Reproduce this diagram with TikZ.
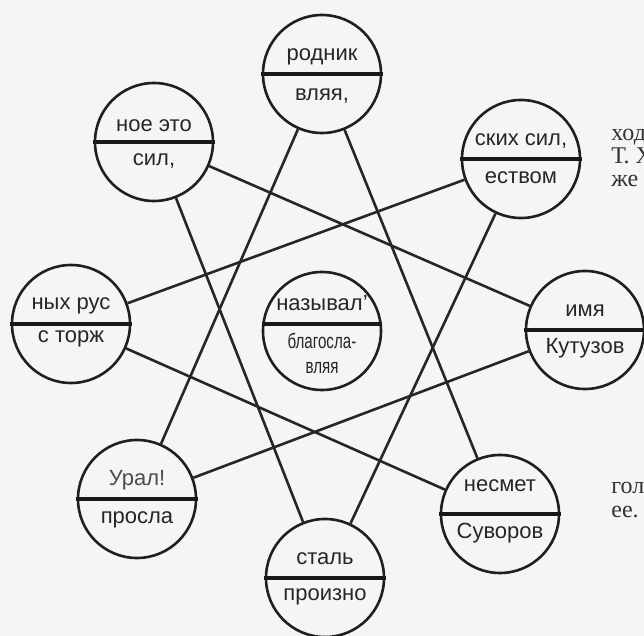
\documentclass[tikz,border=0pt]{standalone}
\usepackage{fontspec}
\setmainfont{Liberation Sans}
\newfontfamily\seriffont{Liberation Serif}
\newfontfamily\narrowfont[FakeStretch=0.72]{Liberation Sans}
\usetikzlibrary{calc}
\begin{document}
\begin{tikzpicture}[x=0.5pt,y=-0.5pt,
  bub/.style={circle,draw=black!88,line width=1.3pt,minimum size=59pt,inner sep=0pt,fill=none},
  divline/.style={draw=black!90,line width=1.7pt,shorten <=-0.5pt,shorten >=-0.5pt},
  conn/.style={draw=black!85,line width=1.3pt},
  lbl/.style={font=\fontsize{11}{13}\selectfont,text=black!85,inner sep=0pt},
  nlbl/.style={font=\narrowfont\fontsize{10.5}{12}\selectfont,text=black!85,inner sep=0pt},
  frag/.style={font=\seriffont\fontsize{12}{14}\selectfont,text=black!80,inner sep=0pt,anchor=base west}]
\useasboundingbox (0,0) rectangle (644,636);
\fill[black!4] (0,0) rectangle (644,636);
% outer octagon of circles
\node[bub] (n0) at (322,74) {};
\node[bub] (n1) at (521,159) {};
\node[bub] (n2) at (585,330) {};
\node[bub] (n3) at (500,514) {};
\node[bub] (n4) at (325,578) {};
\node[bub] (n5) at (137,499) {};
\node[bub] (n6) at (71,324) {};
\node[bub] (n7) at (154,142) {};
\node[bub] (nc) at (322,331) {};
% dividers
\foreach \n in {n0,n1,n2,n3,n4,n5,n6,n7}{\draw[divline] (\n.west) -- (\n.east);}
\draw[divline] ($(nc.west)+(1,-7)$) -- ($(nc.east)+(-1,-7)$);
% connectors (star)
\draw[conn] (n0) -- (n3);
\draw[conn] (n0) -- (n5);
\draw[conn] (n1) -- (n4);
\draw[conn] (n1) -- (n6);
\draw[conn] (n2) -- (n5);
\draw[conn] (n2) -- (n7);
\draw[conn] (n3) -- (n6);
\draw[conn] (n4) -- (n7);
% labels
\node[lbl] (t0a) at ($(n0)+(0,-17)$) {родник};
\node[lbl] (t0b) at ($(n0)+(0,22)$) {вляя,};
\node[lbl] (t1a) at ($(n1)+(0,-18)$) {ских сил,};
\node[lbl] (t1b) at ($(n1)+(0,19)$) {еством};
\node[lbl] (t2a) at ($(n2)+(0,-19)$) {имя};
\node[lbl] (t2b) at ($(n2)+(0,18)$) {Кутузов};
\node[lbl] (t3a) at ($(n3)+(0,-28)$) {несмет};
\node[lbl] (t3b) at ($(n3)+(0,19)$) {Суворов};
\node[lbl] (t4a) at ($(n4)+(0,-19)$) {сталь};
\node[lbl] (t4b) at ($(n4)+(0,19)$) {произно};
\node[lbl,text=black!70] (t5a) at ($(n5)+(0,-19)$) {Урал!};
\node[lbl] (t5b) at ($(n5)+(0,21)$) {просла};
\node[lbl] (t6a) at ($(n6)+(0,-18)$) {ных рус};
\node[lbl] (t6b) at ($(n6)+(0,15)$) {с торж};
\node[lbl] (t7a) at ($(n7)+(0,-16)$) {ное это};
\node[lbl] (t7b) at ($(n7)+(0,19)$) {сил,};
\node[lbl] (tca) at ($(nc)+(0,-28)$) {называл'};
\node[nlbl] (tcb) at ($(nc)+(0,10)$) {благосла-};
\node[nlbl] (tcc) at ($(nc)+(0,37)$) {вляя};
% page text fragments cut by the right edge
\begin{scope}
\clip (0,0) rectangle (644,636);
\node[frag] (f1) at (611,141) {ход};
\node[frag] (f2) at (611,164) {Т. Х};
\node[frag] (f3) at (611,187) {же};
\node[frag] (f4) at (611,494) {гол};
\node[frag] (f5) at (611,518) {ее.};
\end{scope}
\end{tikzpicture}
\end{document}
